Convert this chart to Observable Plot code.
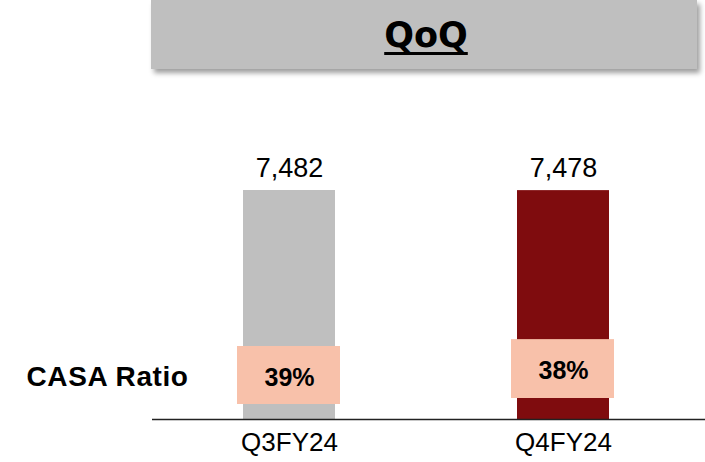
<!DOCTYPE html>
<html>
<head>
<meta charset="utf-8">
<script src="https://cdn.jsdelivr.net/npm/d3@7"></script>
<script src="https://cdn.jsdelivr.net/npm/@observablehq/plot@0.6"></script>
<style>
  html, body { margin: 0; padding: 0; background: #fff; }
  #wrap { position: relative; width: 705px; height: 462px; overflow: hidden; font-family: "Liberation Sans", Arial, sans-serif; }
  #title {
    position: absolute; left: 151px; top: 0; width: 546px; height: 69px;
    background: #bfbfbf; box-shadow: 3px 4px 5px rgba(0,0,0,0.38);
    display: flex; align-items: center; justify-content: center;
    font-family: "DejaVu Sans", sans-serif; font-weight: bold; font-size: 35px; color: #000;
    text-decoration: underline; text-decoration-thickness: 2.5px; text-underline-offset: 5px;
    text-decoration-skip-ink: none;
    padding-left: 4px; box-sizing: border-box;
  }
  #chart { position: absolute; left: 0; top: 80px; }
</style>
</head>
<body>
<div id="wrap">
  <div id="title">QoQ</div>
  <div id="chart"></div>
</div>
<script>
const quarters = ["Q3FY24", "Q4FY24"];
const deposits = [7482, 7478];
const casaRatio = [39, 38];
const barColors = ["#bfbfbf", "#7f0c0e"];
const casaLabel = "CASA Ratio";

const data = quarters.map((q, i) => ({quarter: q, value: deposits[i], casa: casaRatio[i], color: barColors[i]}));
const fmt = d3.format(",");
const font = "Liberation Sans, Arial, sans-serif";

const chart = Plot.plot({
  width: 705,
  height: 382,
  marginLeft: 152,
  marginRight: 5,
  marginTop: 110,
  marginBottom: 43,
  style: {fontFamily: font, background: "transparent", color: "#000"},
  x: {domain: quarters, paddingInner: 0.664, paddingOuter: 0.332, label: null},
  y: {domain: [0, d3.max(deposits)], axis: null},
  marks: [
    Plot.barY(data, {x: "quarter", y: "value", fill: "color"}),
    // CASA ratio boxes
    Plot.barY(data.filter(d => d.quarter === quarters[0]), {x: "quarter", y: "value", fill: "#f8c1aa", insetTop: 156, insetBottom: 15, insetLeft: -6, insetRight: -5}),
    Plot.barY(data.filter(d => d.quarter === quarters[1]), {x: "quarter", y: "value", fill: "#f8c1aa", insetTop: 149, insetBottom: 21, insetLeft: -6, insetRight: -5}),
    Plot.text(data.filter(d => d.quarter === quarters[0]), {x: "quarter", frameAnchor: "bottom", text: d => d.casa + "%", dy: -42, lineAnchor: "middle", fontSize: 25, fontWeight: "bold", fill: "#000"}),
    Plot.text(data.filter(d => d.quarter === quarters[1]), {x: "quarter", frameAnchor: "bottom", text: d => d.casa + "%", dy: -49, lineAnchor: "middle", fontSize: 25, fontWeight: "bold", fill: "#000"}),
    Plot.text([casaLabel], {frameAnchor: "bottom-left", text: d => d, textAnchor: "start", dx: -126, dy: -42, lineAnchor: "middle", fontSize: 28, fontWeight: "bold", fill: "#000", style: {letterSpacing: "0.5px"}}),
    // value labels
    Plot.text(data, {x: "quarter", y: "value", text: d => fmt(d.value), dy: -22, lineAnchor: "middle", fontSize: 27, fill: "#000"}),
    Plot.ruleY([0], {stroke: "#222", strokeWidth: 1.5, insetRight: -5}),
    Plot.axisX({tickSize: 0, tickPadding: 13, fontSize: 26, fill: "#000", label: null})
  ]
});
// letter spacing for the CASA label
d3.select(chart).selectAll("text").filter(function() { return this.textContent === casaLabel; }).style("letter-spacing", "0.6px");
document.getElementById("chart").appendChild(chart);
</script>
</body>
</html>
